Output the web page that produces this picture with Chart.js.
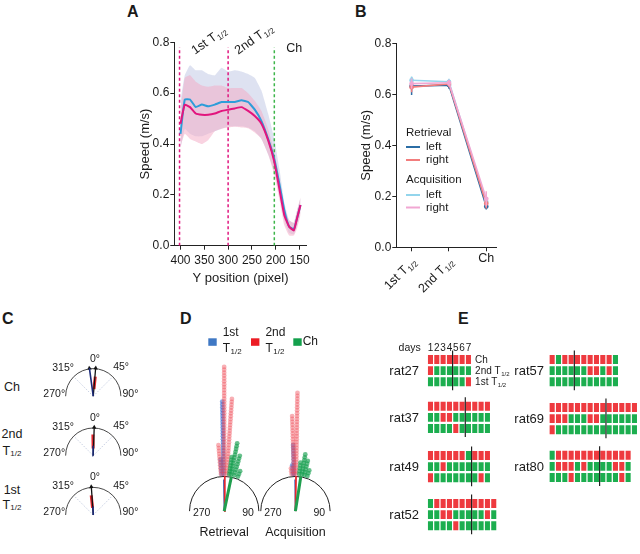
<!DOCTYPE html>
<html>
<head>
<meta charset="utf-8">
<script src="https://cdn.jsdelivr.net/npm/chart.js@4.4.1/dist/chart.umd.min.js"></script>
<style>
  body { margin: 0; background: #fff; }
  #page { position: relative; width: 640px; height: 554px; overflow: hidden; font-family: 'Liberation Sans', Arial, sans-serif; color: #1a1a1a; }
  canvas { position: absolute; }
  .t { position: absolute; line-height: 1; white-space: nowrap; }
  .panel { font-weight: bold; font-size: 16px; }
  .rat { font-size: 13px; text-align: right; }
  .row { font-size: 12.5px; text-align: center; width: 24px; left: 0; }
  .row sub { font-size: 8px; vertical-align: -1px; }
</style>
</head>
<body>
<div id="page">
  <div class="t panel" style="left:127px;top:4px">A</div>
  <div class="t panel" style="left:355px;top:4px">B</div>
  <div class="t panel" style="left:2px;top:311px">C</div>
  <div class="t panel" style="left:180px;top:311px">D</div>
  <div class="t panel" style="left:458px;top:311px">E</div>

  <div class="t row" style="top:381px">Ch</div>
  <div class="t row" style="top:428px">2nd</div>
  <div class="t row" style="top:445px">T<sub>1/2</sub></div>
  <div class="t row" style="top:484px">1st</div>
  <div class="t row" style="top:499px">T<sub>1/2</sub></div>
</div>
<script>
// ---------- data ----------
// A: speed along the track
const posA = [400, 391, 380, 368, 355, 342, 328, 314, 300, 286, 272, 258, 244, 230, 216, 203, 192, 182, 172, 162, 155, 148];
const speedBlue = [0.44, 0.575, 0.575, 0.545, 0.555, 0.548, 0.555, 0.565, 0.565, 0.565, 0.572, 0.565, 0.535, 0.49, 0.42, 0.34, 0.24, 0.14, 0.075, 0.065, 0.11, 0.16];
const speedPink = [0.48, 0.555, 0.545, 0.52, 0.515, 0.515, 0.52, 0.53, 0.535, 0.54, 0.545, 0.53, 0.51, 0.48, 0.415, 0.33, 0.22, 0.12, 0.075, 0.06, 0.11, 0.16];
const blueHi = [0.57, 0.67, 0.71, 0.69, 0.69, 0.675, 0.67, 0.70, 0.685, 0.69, 0.685, 0.675, 0.66, 0.61, 0.52, 0.42, 0.30, 0.17, 0.10, 0.09, 0.14, 0.19];
const blueLo = [0.38, 0.46, 0.44, 0.43, 0.43, 0.44, 0.45, 0.46, 0.47, 0.47, 0.47, 0.465, 0.45, 0.42, 0.36, 0.29, 0.20, 0.10, 0.05, 0.045, 0.08, 0.13];
const pinkHi = [0.53, 0.66, 0.67, 0.645, 0.63, 0.625, 0.63, 0.63, 0.62, 0.62, 0.62, 0.60, 0.57, 0.53, 0.46, 0.37, 0.26, 0.15, 0.10, 0.09, 0.14, 0.19];
const pinkLo = [0.39, 0.44, 0.42, 0.41, 0.40, 0.415, 0.45, 0.46, 0.465, 0.468, 0.465, 0.462, 0.445, 0.42, 0.36, 0.28, 0.18, 0.08, 0.04, 0.04, 0.07, 0.12];
const posTicks = [400, 350, 300, 250, 200, 150];
const speedTicks = [0, 0.2, 0.4, 0.6, 0.8];
const sectionLines = [402, 300, 203];

// B: mean speed per section
const phaseMain = ['1st T', '2nd T', 'Ch'];
const phaseSub = ['1/2', '1/2', ''];
const retLeft = [0.632, 0.636, 0.160];
const retRight = [0.628, 0.641, 0.172];
const acqLeft = [0.655, 0.649, 0.178];
const acqRight = [0.642, 0.645, 0.190];
const retLeftErr = [0.035, 0.014, 0.012];
const retRightErr = [0.02, 0.012, 0.02];
const acqLeftErr = [0.015, 0.012, 0.02];
const acqRightErr = [0.02, 0.012, 0.03];

// C: mean heading per section (deg, length as fraction of radius); rows Ch, 2nd, 1st
const cRows = ['Ch', '2nd', '1st'];
const cNavyAngle = [-8, -1, -2];
const cNavyLen = [1.0, 0.35, 0.3];
const cRedAngle = [6, -1, -6];
const cRedLen = [0.7, 0.75, 0.7];
const cBlackAngle = [5, 2, -4];
const cBlackLen = [1.0, 1.0, 1.0];

// D: circular dot histograms (bin angle deg, count)
const retFirstAng = [-4, -1], retFirstCnt = [6, 26];
const retSecondAng = [-5, 0, 4], retSecondCnt = [11, 38, 27];
const retChAng = [8, 11, 16, 22], retChCnt = [7, 12, 8, 3];
const acqFirstAng = [-4, -2], acqFirstCnt = [4, 11];
const acqSecondAng = [-6, -2, 1], acqSecondCnt = [3, 21, 29];
const acqChAng = [6, 10, 14, 19], acqChCnt = [5, 8, 6, 3];
const retMeanAng = [-1, 1, 12], acqMeanAng = [-1, 1, 9];
const meanLen = [0.9, 1.0, 1.0];

// E: choice outcome per day, rows Ch / 2nd / 1st (G correct, R error)
const rat27 = ['RRRRRRR', 'RGGGGGG', 'GGGGGGR'];
const rat37 = ['RRRRRRRRRR', 'GGRRGGGGGG', 'GGGGRGGGGG'];
const rat49 = ['RRRRRRGRRR', 'GGRGGGGGGG', 'RGGGGGGGRG'];
const rat52 = ['GRRRRRRRRRR', 'GGRRGGGGGRG', 'GGGGRGGGGGG'];
const rat57 = ['RGRRRRRRRRG', 'GGGGGGRRGRG', 'GGGGGGGGGGG'];
const rat69 = ['RRRRRRRRRRRRRR', 'RRRGGGRRGGGGGG', 'RGGGGGGGGGGGGG'];
const rat80 = ['GRRRRRRRRRRRR', 'GRRRGRGGGGRRG', 'GGGRGGGGGGGRG'];
const ratNames = ['rat27', 'rat37', 'rat49', 'rat52', 'rat57', 'rat69', 'rat80'];
const ratRows = [rat27, rat37, rat49, rat52, rat57, rat69, rat80];
const switchDay = [4, 6, 7, 7, 4, 9, 8];

// ---------- setup ----------
const FONT = "'Liberation Sans', Arial, Helvetica, sans-serif";
Chart.defaults.font.family = FONT;
Chart.defaults.color = '#1a1a1a';
Chart.defaults.animation = false;
Chart.defaults.responsive = false;
Chart.defaults.plugins.legend.display = false;
Chart.defaults.plugins.tooltip.enabled = false;

const page = document.getElementById('page');
function makeCanvas(L, T, W, H) {
    const c = document.createElement('canvas');
    c.width = W; c.height = H;
    c.style.left = L + 'px'; c.style.top = T + 'px';
    page.appendChild(c);
    return c;
}

function drawSub(ctx, main, sub, x, y, size, o = {}) {
    const subSize = Math.round(size * 0.64);
    ctx.save();
    ctx.translate(x, y);
    if (o.rot) ctx.rotate(o.rot);
    ctx.font = size + 'px ' + FONT;
    const w1 = ctx.measureText(main).width;
    ctx.font = subSize + 'px ' + FONT;
    const w2 = sub ? ctx.measureText(sub).width + 0.5 : 0;
    let x0 = 0;
    if (o.align === 'right') x0 = -(w1 + w2);
    if (o.align === 'center') x0 = -(w1 + w2) / 2;
    ctx.fillStyle = o.color || '#1a1a1a';
    ctx.textAlign = 'left';
    ctx.textBaseline = 'alphabetic';
    const base = size * 0.36;
    ctx.font = size + 'px ' + FONT;
    ctx.fillText(main, x0, base);
    if (sub) {
        ctx.font = subSize + 'px ' + FONT;
        ctx.fillText(sub, x0 + w1 + 0.5, base + size * 0.2);
    }
    ctx.restore();
}

function text(ctx, s, x, y, size, align, color) {
    ctx.save();
    ctx.font = size + 'px ' + FONT;
    ctx.fillStyle = color || '#1a1a1a';
    ctx.textAlign = align || 'center';
    ctx.textBaseline = 'middle';
    ctx.fillText(s, x, y);
    ctx.restore();
}

const AXIS = '#222';
function yAxis(width, title) {
    return {
        min: 0, max: 0.8,
        afterBuildTicks: s => { s.ticks = speedTicks.map(v => ({ value: v })); },
        grid: { drawOnChartArea: false, tickLength: 4, color: AXIS },
        border: { color: AXIS, width: 1 },
        ticks: { padding: 1, font: { size: 12 }, color: '#1a1a1a', callback: v => v.toFixed(1) },
        title: { display: true, text: title, font: { size: 13 }, color: '#1a1a1a', padding: 0 },
        afterFit: s => { s.width = width; }
    };
}

// ---------- A ----------
const ptsA = arr => arr.map((v, i) => ({ x: posA[i], y: v }));
const annotA = [
    { main: '1st T', sub: '1/2', x: 375, y: 0.765, rot: -0.62 },
    { main: '2nd T', sub: '1/2', x: 284, y: 0.765, rot: -0.62 },
    { main: 'Ch', sub: '', x: 178, y: 0.78, rot: 0 }
];
new Chart(makeCanvas(130, 0, 190, 295), {
    type: 'line',
    data: {
        datasets: [
            { data: ptsA(blueHi), borderWidth: 0, backgroundColor: 'rgba(200,206,232,0.6)', fill: '+1', order: 4 },
            { data: ptsA(blueLo), borderWidth: 0, fill: false, order: 4 },
            { data: ptsA(pinkHi), borderWidth: 0, backgroundColor: 'rgba(243,168,196,0.5)', fill: '+1', order: 3 },
            { data: ptsA(pinkLo), borderWidth: 0, fill: false, order: 3 },
            ...sectionLines.map((x, i) => ({
                data: [{ x: x, y: 0 }, { x: x, y: 0.78 }],
                borderColor: i === 2 ? '#3db54a' : '#e0177f', borderWidth: 1.5, borderDash: [3, 2.5], tension: 0, order: 2
            })),
            { data: ptsA(speedBlue), borderColor: '#2e9dd9', borderWidth: 2, order: 1 },
            { data: ptsA(speedPink), borderColor: '#e2157e', borderWidth: 2, order: 0 }
        ]
    },
    options: {
        layout: { padding: { left: 7.2, right: 13.3, top: 42.3, bottom: 0 } },
        elements: { point: { radius: 0 }, line: { tension: 0.12 } },
        scales: {
            x: {
                type: 'linear', reverse: true, min: 135, max: 413,
                afterBuildTicks: s => { s.ticks = posTicks.map(v => ({ value: v })); },
                grid: { drawOnChartArea: false, tickLength: 4, color: AXIS },
                border: { color: AXIS, width: 1 },
                ticks: { padding: 4, font: { size: 12 }, color: '#1a1a1a' },
                title: { display: true, text: 'Y position (pixel)', font: { size: 13 }, color: '#1a1a1a', padding: { top: 0, bottom: 9 } },
                afterFit: s => { s.height = 49.3; }
            },
            y: yAxis(37.1, 'Speed (m/s)')
        }
    },
    plugins: [{
        id: 'annotA',
        afterDraw(chart) {
            const { ctx, scales: { x, y } } = chart;
            annotA.forEach(a => drawSub(ctx, a.main, a.sub, x.getPixelForValue(a.x), y.getPixelForValue(a.y), 12.5, { rot: a.rot }));
        }
    }]
});

// ---------- B ----------
const ptsB = arr => arr.map((v, i) => ({ x: i, y: v }));
const errB = (arr, err) => arr.flatMap((v, i) => [{ x: i, y: v - err[i] }, { x: i, y: v + err[i] }, { x: i, y: null }]);
const bSeries = [
    { v: retLeft, e: retLeftErr, c: '#2b6da5' },
    { v: acqLeft, e: acqLeftErr, c: '#93d5ec' },
    { v: retRight, e: retRightErr, c: '#f27d7d' },
    { v: acqRight, e: acqRightErr, c: '#f1a7d3' }
];
const legendB = [
    { head: 'Retrieval', y: 133 },
    { label: 'left', color: '#2b6da5', y: 147 },
    { label: 'right', color: '#f27d7d', y: 160 },
    { head: 'Acquisition', y: 179.5 },
    { label: 'left', color: '#93d5ec', y: 195 },
    { label: 'right', color: '#f1a7d3', y: 207.5 }
];
new Chart(makeCanvas(350, 0, 160, 295), {
    type: 'line',
    data: {
        datasets: bSeries.flatMap((s, k) => [
            { data: errB(s.v, s.e), borderColor: s.c, borderWidth: 1.5, spanGaps: false, pointRadius: 0, order: 10 - k },
            { data: ptsB(s.v), borderColor: s.c, backgroundColor: s.c, borderWidth: 1.6, pointRadius: 1.6, order: 10 - k }
        ])
    },
    options: {
        layout: { padding: { left: 8.9, right: 13.3, top: 43.3, bottom: 0 } },
        elements: { line: { tension: 0 } },
        scales: {
            x: {
                type: 'linear', min: -0.41, max: 2.28,
                afterBuildTicks: s => { s.ticks = phaseMain.map((_, i) => ({ value: i })); },
                grid: { drawOnChartArea: false, tickLength: 4, color: AXIS },
                border: { color: AXIS, width: 1 },
                ticks: { callback: () => '' },
                afterFit: s => { s.height = 47.7; }
            },
            y: yAxis(37.4, 'Speed (m/s)')
        }
    },
    plugins: [{
        id: 'labelsB',
        afterDraw(chart) {
            const { ctx, scales: { x, y }, chartArea } = chart;
            phaseMain.forEach((m, i) => {
                const px = x.getPixelForValue(i);
                if (phaseSub[i]) drawSub(ctx, m, phaseSub[i], px + 2, chartArea.bottom + 12, 12.5, { rot: -Math.PI / 4, align: 'right' });
                else text(ctx, m, px, chartArea.bottom + 11, 12.5);
            });
            legendB.forEach(l => {
                if (l.head) { text(ctx, l.head, 56, l.y, 11.5, 'left'); return; }
                ctx.save();
                ctx.strokeStyle = l.color; ctx.lineWidth = 2;
                ctx.beginPath(); ctx.moveTo(56, l.y); ctx.lineTo(70, l.y); ctx.stroke();
                ctx.restore();
                text(ctx, l.label, 76, l.y, 11.5, 'left');
            });
        }
    }]
});

// ---------- C ----------
const C_UNIT = 29.5, C_GAP = 62 / 29.5;
const rad = d => d * Math.PI / 180;
const segsC = (ang, from, to) => ang.flatMap((a, i) => {
    const cy = -i * C_GAP;
    return [
        { x: from * Math.sin(rad(a)), y: cy + from * Math.cos(rad(a)) },
        { x: to[i] * Math.sin(rad(a)), y: cy + to[i] * Math.cos(rad(a)) },
        { x: 0, y: null }
    ];
});
const tipsC = [];
cBlackAngle.forEach((a, i) => tipsC.push({ x: Math.sin(rad(a)) * cBlackLen[i], y: -i * C_GAP + Math.cos(rad(a)) * cBlackLen[i], r: a }));
cNavyAngle.forEach((a, i) => { if (cNavyLen[i] >= 0.95) tipsC.push({ x: Math.sin(rad(a)), y: -i * C_GAP + Math.cos(rad(a)), r: a }); });
const degLabels = [
    { s: '0°', x: 0.06, y: 1.36, a: 'center' },
    { s: '315°', x: -0.7, y: 1.03, a: 'right' },
    { s: '45°', x: 0.72, y: 1.05, a: 'left' },
    { s: '270°', x: -1.02, y: 0.09, a: 'right' },
    { s: '90°', x: 1.06, y: 0.09, a: 'left' }
];
new Chart(makeCanvas(30, 340, 125, 190), {
    type: 'scatter',
    data: {
        datasets: [
            { data: segsC(cNavyAngle, 0, cNavyLen), showLine: true, borderColor: '#1b2a78', borderWidth: 1.6, pointRadius: 0, spanGaps: false },
            { data: segsC(cBlackAngle, 0, cBlackLen), showLine: true, borderColor: '#111', borderWidth: 1.3, pointRadius: 0, spanGaps: false },
            { data: segsC(cRedAngle, 0.25, cRedLen), showLine: true, borderColor: '#e3262e', borderWidth: 3, pointRadius: 0, spanGaps: false },
            { data: tipsC, pointStyle: 'triangle', pointRadius: 2.6, backgroundColor: '#111', borderWidth: 0, rotation: tipsC.map(t => t.r) }
        ]
    },
    options: {
        layout: { padding: 0 },
        scales: {
            x: { display: false, min: -63.3 / C_UNIT, max: (125 - 63.3) / C_UNIT },
            y: { display: false, min: -(190 - 54.5) / C_UNIT, max: 54.5 / C_UNIT }
        }
    },
    plugins: [{
        id: 'polarC',
        beforeDatasetsDraw(chart) {
            const { ctx, scales: { x, y } } = chart;
            const R = x.getPixelForValue(1) - x.getPixelForValue(0);
            cRows.forEach((_, i) => {
                const cx = x.getPixelForValue(0), cy = y.getPixelForValue(-i * C_GAP);
                ctx.save();
                ctx.strokeStyle = '#b9c3da'; ctx.lineWidth = 0.8; ctx.setLineDash([1.5, 1.5]);
                [-45, 45].forEach(a => {
                    ctx.beginPath(); ctx.moveTo(cx, cy);
                    ctx.lineTo(cx + R * Math.sin(rad(a)), cy - R * Math.cos(rad(a))); ctx.stroke();
                });
                ctx.setLineDash([]);
                ctx.strokeStyle = '#333'; ctx.lineWidth = 0.9;
                ctx.beginPath(); ctx.arc(cx, cy, R, Math.PI, 2 * Math.PI); ctx.stroke();
                ctx.restore();
                degLabels.forEach(l => text(ctx, l.s, cx + l.x * R, cy - l.y * R, 10.5, l.a));
            });
        }
    }]
});

// ---------- D ----------
const D_UNIT = 36.5, ACQ_X = 75 / 36.5, STEP = 3 / 36.5, R0 = 1.06;
const dots = (cx, ang, cnt) => ang.flatMap((a, i) =>
    Array.from({ length: cnt[i] }, (_, k) => {
        const r = R0 + k * STEP;
        return { x: cx + r * Math.sin(rad(a)), y: r * Math.cos(rad(a)) };
    }));
const meanSeg = (cx, a, len) => [{ x: cx, y: 0 }, { x: cx + len * Math.sin(rad(a)), y: len * Math.cos(rad(a)) }, { x: cx, y: null }];
const dotSet = (data, color) => ({ data, pointRadius: 2.4, backgroundColor: color, borderWidth: 0, clip: false });
const lineSet = (k, color, w) => ({
    data: [...meanSeg(0, retMeanAng[k], meanLen[k]), ...meanSeg(ACQ_X, acqMeanAng[k], meanLen[k])],
    showLine: true, borderColor: color, borderWidth: w, pointRadius: 0, spanGaps: false
});
const legendD = [
    { color: '#3f78c4', x: 28.3, main: '1st', sub: true },
    { color: '#ec1c24', x: 71, main: '2nd', sub: true },
    { color: '#13a04c', x: 113.3, main: 'Ch', sub: false }
];
new Chart(makeCanvas(180, 325, 160, 220), {
    type: 'scatter',
    data: {
        datasets: [
            lineSet(2, '#1f9e4e', 3),
            lineSet(1, '#e3262e', 1.8),
            lineSet(0, '#3a62b8', 1.2),
            dotSet([...dots(0, retChAng, retChCnt), ...dots(ACQ_X, acqChAng, acqChCnt)], 'rgba(22,158,78,0.65)'),
            dotSet([...dots(0, retSecondAng, retSecondCnt), ...dots(ACQ_X, acqSecondAng, acqSecondCnt)], 'rgba(240,80,92,0.45)'),
            dotSet([...dots(0, retFirstAng, retFirstCnt), ...dots(ACQ_X, acqFirstAng, acqFirstCnt)], 'rgba(50,92,200,0.55)')
        ]
    },
    options: {
        layout: { padding: 0 },
        scales: {
            x: { display: false, min: -42.3 / D_UNIT, max: (160 - 42.3) / D_UNIT },
            y: { display: false, min: -(220 - 189) / D_UNIT, max: 189 / D_UNIT }
        }
    },
    plugins: [{
        id: 'polarD',
        beforeDatasetsDraw(chart) {
            const { ctx, scales: { x, y } } = chart;
            const R = x.getPixelForValue(1) - x.getPixelForValue(0);
            const cy = y.getPixelForValue(0);
            [0, ACQ_X].forEach((c, i) => {
                const cx = x.getPixelForValue(c);
                ctx.save();
                ctx.strokeStyle = '#222'; ctx.lineWidth = 1;
                ctx.beginPath(); ctx.arc(cx, cy, R, Math.PI, 2 * Math.PI); ctx.stroke();
                ctx.restore();
                text(ctx, '270', cx - 0.65 * R, cy + 2, 10.5, 'center');
                text(ctx, '90', cx + 0.69 * R, cy + 2, 10.5, 'center');
                text(ctx, i === 0 ? 'Retrieval' : 'Acquisition', cx, cy + 21, 12.5, 'center');
            });
            legendD.forEach(l => {
                ctx.fillStyle = l.color;
                ctx.fillRect(l.x, 13.3, 8.4, 7.5);
                if (l.sub) {
                    text(ctx, l.main, l.x + 14.4, 8, 12, 'left');
                    drawSub(ctx, 'T', '1/2', l.x + 14.4, 22.5, 12);
                } else {
                    text(ctx, l.main, l.x + 9.4, 17, 12, 'left');
                }
            });
        }
    }]
});

// ---------- E ----------
const CELL_W = 6.33, GRID_H = 33.3;
const RED = '#ee3a3f', GREEN = '#1cae4f';
const ratBoxes = [[427.3, 354], [427.3, 400.7], [427.3, 450], [427.3, 498], [549, 354], [549, 402], [549, 449.7]];
const rowNames = [['Ch', ''], ['2nd T', '1/2'], ['1st T', '1/2']];

ratRows.forEach((rows, r) => {
    const [gx, gy] = ratBoxes[r];
    const n = rows[0].length;
    const first = r === 0;
    const extraL = first ? 30 : 2, extraT = first ? 16 : 4, extraR = first ? 42 : 2;
    const L = Math.floor(gx) - extraL, T = Math.floor(gy) - extraT;
    const W = Math.ceil(gx + n * CELL_W) + extraR - L;
    const H = Math.ceil(gy + GRID_H) + 4 - T;
    const padL = gx - L, padT = gy - T;
    new Chart(makeCanvas(L, T, W, H), {
        type: 'bar',
        data: {
            labels: rows[0].split('').map((_, i) => String(i + 1)),
            datasets: rows.map((row, k) => ({
                data: row.split('').map(() => [2 - k + 0.1, 2 - k + 0.9]),
                backgroundColor: row.split('').map(c => c === 'G' ? GREEN : RED),
                borderWidth: 0, barPercentage: 0.8, categoryPercentage: 1, grouped: false
            }))
        },
        options: {
            layout: { padding: { left: padL, top: padT, right: W - padL - n * CELL_W, bottom: H - padT - GRID_H } },
            scales: { x: { display: false }, y: { display: false, min: 0, max: 3 } }
        },
        plugins: [{
            id: 'ratExtras',
            afterDraw(chart) {
                const { ctx, scales: { x }, chartArea: ca } = chart;
                const sx = (x.getPixelForValue(switchDay[r] - 1) + x.getPixelForValue(switchDay[r])) / 2;
                ctx.save();
                ctx.strokeStyle = '#111'; ctx.lineWidth = 1.1;
                ctx.beginPath(); ctx.moveTo(sx, ca.top - 3.5); ctx.lineTo(sx, ca.bottom + 3); ctx.stroke();
                ctx.restore();
                if (first) {
                    chart.data.labels.forEach((d, i) => text(ctx, d, x.getPixelForValue(i), ca.top - 5.5, 10, 'center'));
                    text(ctx, 'days', ca.left - 6.5, ca.top - 5.5, 10.5, 'right');
                    rowNames.forEach((nm, k) => drawSub(ctx, nm[0], nm[1], ca.right + 3.5, ca.top + (k + 0.5) * GRID_H / 3, 10));
                }
            }
        }]
    });
    const lab = document.createElement('div');
    lab.className = 't rat';
    lab.textContent = ratNames[r];
    lab.style.right = (640 - (r < 4 ? 419 : 544)) + 'px';
    lab.style.top = (gy + GRID_H / 2 - 6.2) + 'px';
    page.appendChild(lab);
});
</script>
</body>
</html>
